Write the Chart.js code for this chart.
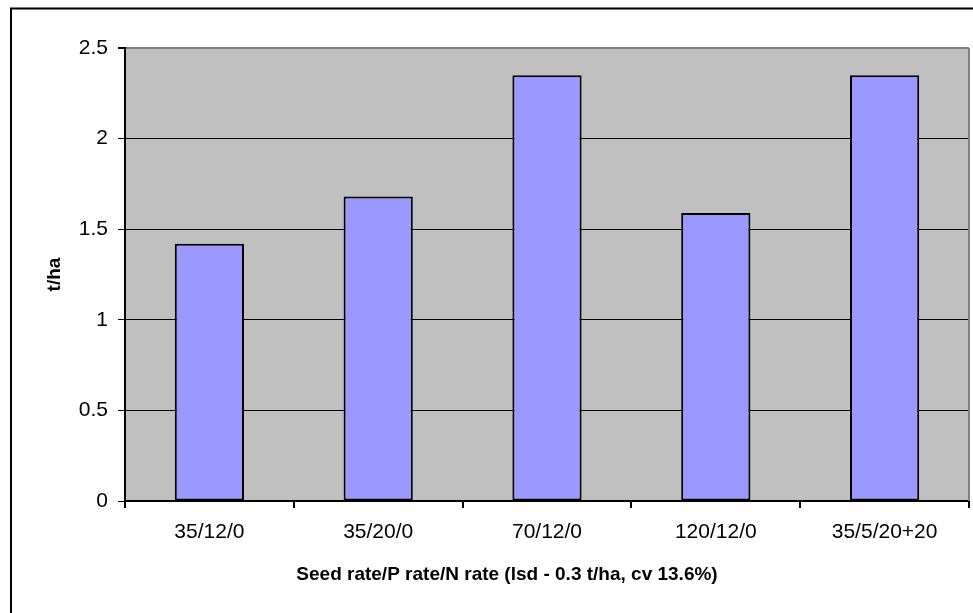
<!DOCTYPE html>
<html>
<head>
<meta charset="utf-8">
<script src="https://cdn.jsdelivr.net/npm/chart.js@4"></script>
<style>
  body { margin: 0; background: #fff; }
  #wrap { width: 973px; height: 613px; }
</style>
</head>
<body>
<div id="wrap"><canvas id="grafico" width="973" height="613"></canvas></div>
<script>
const categorias = ['35/12/0', '35/20/0', '70/12/0', '120/12/0', '35/5/20+20'];
const rendimento = [1.42, 1.68, 2.35, 1.59, 2.35];
const ticksY = [0, 0.5, 1, 1.5, 2, 2.5];
const tituloX = 'Seed rate/P rate/N rate (lsd - 0.3 t/ha, cv 13.6%)';

const fonte = 'Liberation Sans, Arial, sans-serif';

// fundo cinza da área do gráfico, moldura externa e título do eixo x
const molduraPlugin = {
    id: 'moldura',
    beforeDraw(chart) {
        const c = chart.ctx;
        const a = chart.chartArea;
        c.save();
        c.fillStyle = '#ffffff';
        c.fillRect(0, 0, chart.width, chart.height);
        c.fillStyle = '#C0C0C0';
        c.fillRect(a.left, a.top, a.right - a.left, a.bottom - a.top);
        c.strokeStyle = '#000000';
        c.lineWidth = 2;
        c.beginPath();
        c.moveTo(11, chart.height + 5);
        c.lineTo(11, 8.5);
        c.lineTo(chart.width + 5, 8.5);
        c.stroke();
        c.restore();
    },
    afterDatasetsDraw(chart) {
        const c = chart.ctx;
        const a = chart.chartArea;
        c.save();
        c.strokeStyle = '#808080';
        c.lineWidth = 2;
        c.beginPath();
        c.moveTo(a.right, a.top);
        c.lineTo(a.right, a.bottom);
        c.stroke();
        // título do eixo x, centrado na figura original (não na área do gráfico)
        c.fillStyle = '#000';
        c.font = 'bold 19px ' + fonte;
        c.textAlign = 'center';
        c.textBaseline = 'middle';
        c.fillText(tituloX, 507, a.bottom + 74);
        c.restore();
    }
};

new Chart(document.getElementById('grafico'), {
    type: 'bar',
    data: {
        labels: categorias,
        datasets: [{
            label: 't/ha',
            data: rendimento,
            backgroundColor: '#9999FF',
            borderColor: '#000000',
            borderWidth: 2,
            borderSkipped: false,
            barPercentage: 0.41,
            categoryPercentage: 1
        }]
    },
    options: {
        responsive: false,
        animation: false,
        layout: { padding: { left: 0, top: 48, right: 4, bottom: 0 } },
        plugins: {
            legend: { display: false },
            tooltip: { enabled: false }
        },
        scales: {
            y: {
                min: 0,
                max: 2.5,
                afterFit(scale) { scale.width = 125; },
                afterBuildTicks(scale) { scale.ticks = ticksY.map(v => ({ value: v })); },
                ticks: {
                    color: '#000',
                    padding: 10,
                    font: { family: fonte, size: 21 },
                    callback: v => String(v)
                },
                grid: {
                    color: ctx => (ctx.tick && ctx.tick.value === 2.5) ? '#808080' : '#000000',
                    tickColor: '#000000',
                    lineWidth: ctx => (ctx.tick && ctx.tick.value === 2.5) ? 2 : 1,
                    tickLength: 7
                },
                border: { display: true, color: '#000', width: 2 },
                title: {
                    display: true,
                    text: 't/ha',
                    color: '#000',
                    font: { family: fonte, size: 19, weight: 'bold' },
                    padding: { top: 43, bottom: 0 }
                }
            },
            x: {
                afterFit(scale) { scale.height = 112; },
                ticks: {
                    color: '#000',
                    padding: 12,
                    maxRotation: 0,
                    font: { family: fonte, size: 21 }
                },
                grid: {
                    offset: true,
                    drawOnChartArea: false,
                    drawTicks: true,
                    tickLength: 7,
                    tickColor: '#000',
                    lineWidth: 2
                },
                border: { display: true, color: '#000', width: 2 }
            }
        }
    },
    plugins: [molduraPlugin]
});
</script>
</body>
</html>
